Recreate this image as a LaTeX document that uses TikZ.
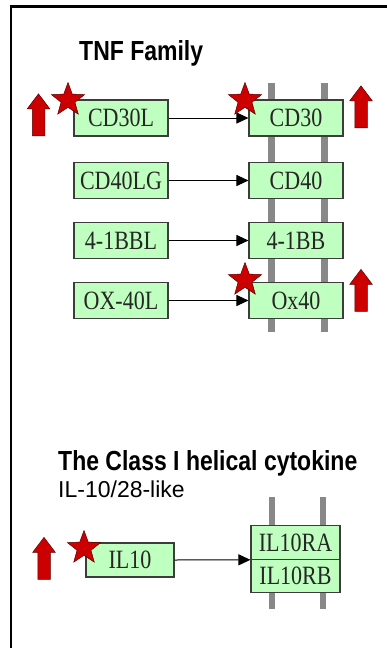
\documentclass[tikz,border=0pt]{standalone}
\usepackage{fontspec}
\setmainfont{Liberation Serif}
\newfontfamily\headfont{Liberation Sans}
\usetikzlibrary{shapes.geometric,shapes.arrows,arrows.meta}
\definecolor{boxgreen}{RGB}{191,255,191}
\definecolor{boxedge}{RGB}{60,60,60}
\definecolor{kred}{RGB}{204,0,0}
\definecolor{kredline}{RGB}{90,0,0}
\definecolor{bargray}{RGB}{136,136,136}
\newcommand{\tallt}[1]{\scalebox{1}[1.2]{#1}}
\tikzset{
  gbox/.style={draw=boxedge, fill=boxgreen, line width=1.1pt, inner sep=0pt,
    minimum width=94pt, minimum height=36pt,
    font=\fontsize{22}{22}\selectfont, text=black!85},
  bar/.style={draw=bargray, line width=6.5pt},
  link/.style={draw=black, line width=1pt, -{Triangle[length=12pt,width=11pt]}},
  upar/.style={single arrow, rotate=90, draw=kredline, fill=kred, line width=0.5pt,
    inner xsep=0pt, inner ysep=6pt, single arrow head extend=5pt,
    single arrow tip angle=74, minimum height=42pt},
  kstar/.style={star, star points=5, star point ratio=2.4, draw=kredline, fill=kred,
    line width=0.5pt, minimum size=35pt, inner sep=0pt},
  head/.style={font=\headfont\bfseries\fontsize{23}{23}\selectfont, inner sep=0pt},
  sub/.style={font=\headfont\fontsize{23}{23}\selectfont, inner sep=0pt}
}
\begin{document}
\begin{tikzpicture}[x=1pt,y=-1pt]
\useasboundingbox (0,0) rectangle (387,648);
% frame
\draw[line width=2.2pt] (11,648) -- (11,6.5) -- (387,6.5);
% headings
\node[head, anchor=base west] (tnf) at (79,60) {\tallt{TNF Family}};
\node[head, anchor=base west] (cls) at (58,470) {\tallt{The Class I helical cytokine}};
\node[sub, anchor=base west] (ilk) at (58,497) {IL-10/28-like};
% membrane bars
\coordinate (b1t) at (271.5,83); \coordinate (b1b) at (271.5,332);
\coordinate (b2t) at (324.5,83); \coordinate (b2b) at (324.5,332);
\coordinate (b3t) at (272,497); \coordinate (b3b) at (272,609);
\coordinate (b4t) at (323,497); \coordinate (b4b) at (323,609);
\draw[bar] (b1t) -- (b1b);
\draw[bar] (b2t) -- (b2b);
\draw[bar] (b3t) -- (b3b);
\draw[bar] (b4t) -- (b4b);
% boxes
\node[gbox] (cd30l) at (121,118) {\tallt{CD30L}};
\node[gbox] (cd30) at (296,118) {\tallt{CD30}};
\node[gbox] (cd40lg) at (121,180.5) {\tallt{CD40LG}};
\node[gbox] (cd40) at (296,180.5) {\tallt{CD40}};
\node[gbox] (bbl) at (121,240.5) {\tallt{4-1BBL}};
\node[gbox] (bb) at (296,240.5) {\tallt{4-1BB}};
\node[gbox] (oxl) at (121,300.5) {\tallt{OX-40L}};
\node[gbox] (ox) at (296,300.5) {\tallt{Ox40}};
\node[gbox, minimum width=88pt, minimum height=34pt] (il10) at (130,560) {\tallt{IL10}};
\node[gbox, minimum width=89pt, minimum height=33.5pt] (il10ra) at (295.5,542.5) {\tallt{IL10RA}};
\node[gbox, minimum width=89pt, minimum height=33.5pt] (il10rb) at (295.5,576) {\tallt{IL10RB}};
% connectors
\draw[link] (cd30l) -- (cd30);
\draw[link] (cd40lg) -- (cd40);
\draw[link] (bbl) -- (bb);
\draw[link] (oxl) -- (ox);
\draw[link] (il10.east) -- (il10ra.south west);
% stars
\node[kstar] (s1) at (68,100) {};
\node[kstar] (s2) at (245,100) {};
\node[kstar] (s3) at (245,280) {};
\node[kstar] (s4) at (84,548) {};
% up arrows
\node[upar] (u1) at (38.5,119) {};
\node[upar] (u2) at (361,111) {};
\node[upar] (u3) at (361,294.5) {};
\node[upar] (u4) at (44,562.5) {};
\end{tikzpicture}
\end{document}
